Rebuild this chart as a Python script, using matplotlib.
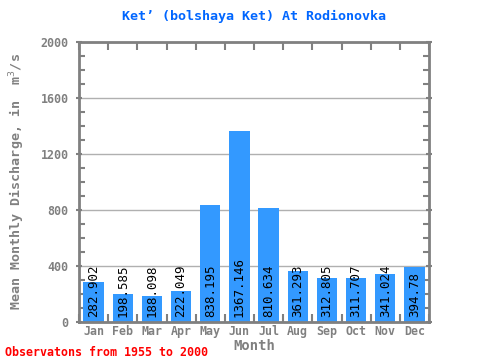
import matplotlib
matplotlib.use('Agg')
import matplotlib.pyplot as plt
import numpy as np

months = ['Jan', 'Feb', 'Mar', 'Apr', 'May', 'Jun', 'Jul', 'Aug', 'Sep', 'Oct', 'Nov', 'Dec']
discharge = [282.902, 198.585, 188.098, 222.049, 838.195, 1367.146, 810.634,
             361.293, 312.805, 311.707, 341.024, 394.78]
labels = ['282.902', '198.585', '188.098', '222.049', '838.195', '1367.146', '810.634',
          '361.293', '312.805', '311.707', '341.024', '394.78']

mono = 'DejaVu Sans Mono'
gray = '#808080'

fig = plt.figure(figsize=(4.8, 3.6), dpi=100)
ax = fig.add_axes([0.1646, 0.1056, 0.7292, 0.7778])

x = np.arange(len(months))
ax.bar(x, discharge, width=0.7, color='#3399ff', zorder=2)
for xi, lab in zip(x, labels):
    ax.text(xi, 36, lab, rotation=90, ha='center', va='bottom', family=mono,
            fontsize=9, color='black', zorder=3)

ax.set_xlim(-0.5, 11.5)
ax.set_ylim(0, 2000)
ax.set_yticks([0, 400, 800, 1200, 1600, 2000])
ax.set_yticks(np.arange(0, 2001, 100), minor=True)
ax.yaxis.grid(True, color='#b0b0b0', linewidth=1, zorder=1)
ax.set_xticks(x)
ax.set_xticklabels(months)
ax.set_xticks(np.arange(-0.5, 12, 1), minor=True)
ax.tick_params(axis='x', which='major', length=0, pad=2)
ax.tick_params(axis='x', which='minor', length=6, width=1.5, color=gray, top=True, direction='in')
ax.tick_params(axis='y', which='both', direction='in', color=gray, width=1.5, right=True)
ax.tick_params(axis='y', which='major', length=5, direction='inout', pad=5)
ax.tick_params(axis='y', which='minor', length=4)
for lab in ax.get_xticklabels() + ax.get_yticklabels():
    lab.set_family(mono)
    lab.set_fontweight('bold')
    lab.set_color(gray)
    lab.set_fontsize(8.4)
for sp in ax.spines.values():
    sp.set_color(gray)
    sp.set_linewidth(2)

ax.set_title('Ket\u2019 (bolshaya Ket) At Rodionovka', family=mono, fontweight='bold',
             color='#0066ff', fontsize=9.6, pad=16)
ax.set_xlabel('Month', family=mono, fontweight='bold', color=gray, fontsize=10, labelpad=1)
ax.set_ylabel('Mean Monthly Discharge, in  m$^3$/s', family=mono, fontweight='bold',
              color=gray, fontsize=9.6, labelpad=10)
fig.text(0.01, 0.01, 'Observatons from 1955 to 2000', family=mono, fontweight='bold',
         color='red', fontsize=8.4)

fig.savefig('out.png', dpi=100)
